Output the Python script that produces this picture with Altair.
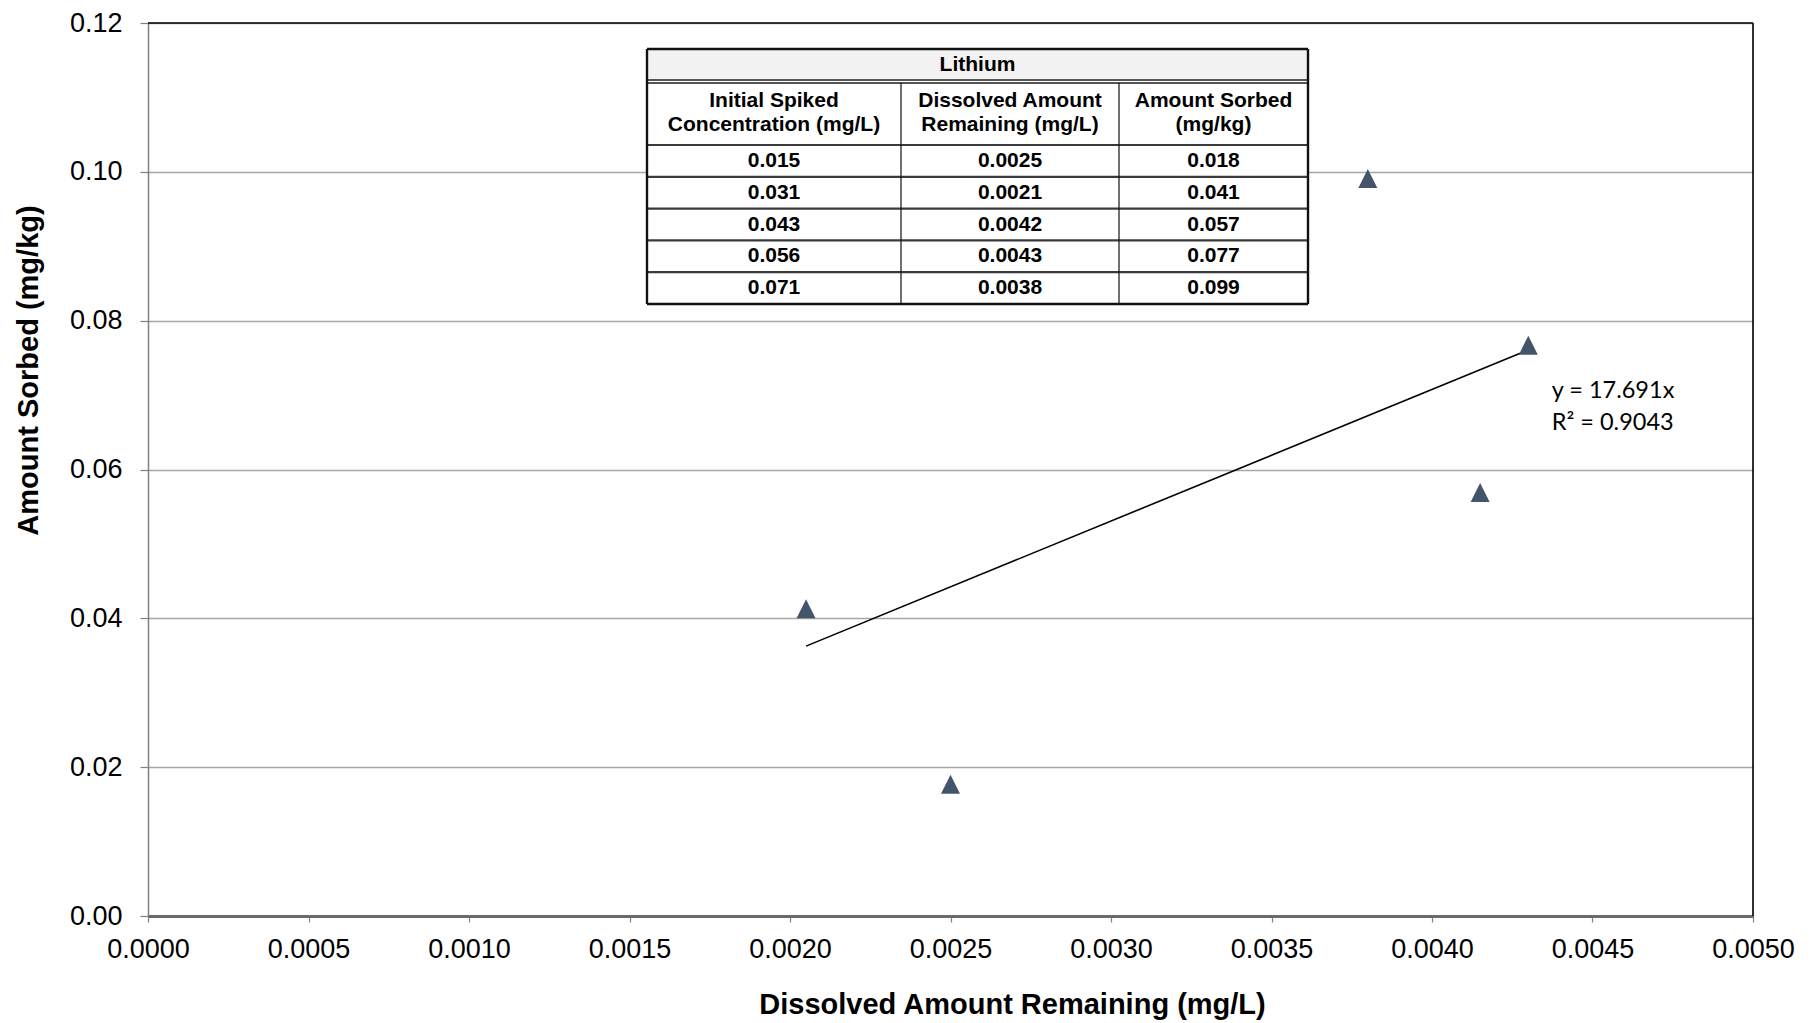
import altair as alt
import pandas as pd

# ---------------- data ----------------
dissolved = [0.00205, 0.0025, 0.0038, 0.00415, 0.0043]   # x of plotted points (mg/L)
sorbed = [0.0413, 0.0177, 0.0991, 0.0569, 0.0767]        # y of plotted points (mg/kg)

trend_slope = 17.691
trend_r2 = 0.9043
eq_lines = ["y = 17.691x", "R\u00b2 = 0.9043"]

x_ticks = [0.0, 0.0005, 0.0010, 0.0015, 0.0020, 0.0025, 0.0030, 0.0035, 0.0040, 0.0045, 0.0050]
y_ticks = [0.00, 0.02, 0.04, 0.06, 0.08, 0.10, 0.12]

table_title = "Lithium"
table_headers = [["Initial Spiked", "Concentration (mg/L)"],
                 ["Dissolved Amount", "Remaining (mg/L)"],
                 ["Amount Sorbed", "(mg/kg)"]]
col_initial = ["0.015", "0.031", "0.043", "0.056", "0.071"]
col_dissolved = ["0.0025", "0.0021", "0.0042", "0.0043", "0.0038"]
col_sorbed = ["0.018", "0.041", "0.057", "0.077", "0.099"]

# ---------------- layout (pixels) ----------------
W, H = 1605, 893
FONT = "Liberation Sans"
COLX = [499, 753, 971, 1160]          # table column edges
T_TOP, T_TITLE_BOT, T_HEAD_TOP, T_HEAD_BOT, T_BOT = 26, 57, 60, 122, 281
ROW_H = (T_BOT - T_HEAD_BOT) / 5
EQ_X, EQ_Y = 0.004373, [0.06961, 0.06531]
TRI = "M0,-1L1,1L-1,1Z"

# ---------------- main layers ----------------
pts = pd.DataFrame({"x": dissolved, "y": sorbed})
tx = [min(dissolved), max(dissolved)]
trend = pd.DataFrame({"x": tx, "y": [trend_slope * v for v in tx]})
eq = pd.DataFrame({"x": [EQ_X, EQ_X], "y": EQ_Y, "t": eq_lines})

xscale = alt.Scale(domain=[0, 0.005], nice=False, zero=False)
yscale = alt.Scale(domain=[0, 0.12], nice=False)

xaxis = alt.Axis(values=x_ticks, format=".4f", grid=False, labelFont=FONT, labelFontSize=27,
                 labelColor="black", labelPadding=14, labelFlush=False, labelOverlap=False,
                 tickSize=6, tickColor="#808080", tickWidth=1.2,
                 domainColor="#6a6a6a", domainWidth=3,
                 title="Dissolved Amount Remaining (mg/L)", titleFont=FONT, titleFontSize=29,
                 titleFontWeight="bold", titleColor="black", titleX=864, titleY=97,
                 titleBaseline="alphabetic", titleAlign="center")
yaxis = alt.Axis(values=y_ticks, format=".2f", grid=True, gridColor="#a6a6a6", gridWidth=1.3,
                 labelFont=FONT, labelFontSize=27, labelColor="black", labelPadding=18,
                 labelFlush=False, labelOverlap=False,
                 tickSize=8, tickColor="#808080", tickWidth=1.2,
                 domainColor="#808080", domainWidth=1.5,
                 title="Amount Sorbed (mg/kg)", titleFont=FONT, titleFontSize=29,
                 titleFontWeight="bold", titleColor="black", titleX=-111, titleY=347,
                 titleBaseline="alphabetic", titleAlign="center", titleAngle=270)

trend_line = alt.Chart(trend).mark_line(color="black", strokeWidth=1.6).encode(
    x=alt.X("x:Q", scale=xscale, axis=xaxis),
    y=alt.Y("y:Q", scale=yscale, axis=yaxis),
)
points = alt.Chart(pts).mark_point(shape=TRI, filled=True, size=361,
                                   color="#44546A", opacity=1).encode(
    x=alt.X("x:Q", scale=xscale), y=alt.Y("y:Q", scale=yscale))
eq_text = alt.Chart(eq).mark_text(align="left", baseline="alphabetic", font="Lato",
                                  fontSize=23.5, color="black").encode(
    x=alt.X("x:Q", scale=xscale), y=alt.Y("y:Q", scale=yscale), text="t:N")

main = alt.layer(trend_line, points, eq_text)

# ---------------- table inset and plot frame (pixel coordinates) ----------------
rects = pd.DataFrame({
    "x": [COLX[0], COLX[0]], "x2": [COLX[3], COLX[3]],
    "y": [T_TOP, T_TOP], "y2": [T_BOT, T_TITLE_BOT],
    "fill": ["white", "#f2f2f2"]})
rect_layer = alt.Chart(rects).mark_rect().encode(
    x=alt.X("x:Q", scale=None, axis=None), x2="x2:Q",
    y=alt.Y("y:Q", scale=None, axis=None), y2="y2:Q",
    fill=alt.Fill("fill:N", scale=None))

row_lines = [T_HEAD_BOT + ROW_H * i for i in range(1, 5)]
segs = []
for yy in [T_TITLE_BOT, T_HEAD_TOP]:
    segs.append((COLX[0], COLX[3], yy, yy, "#555555", 2.0))
segs.append((COLX[0], COLX[3], T_HEAD_BOT, T_HEAD_BOT, "#3a3a3a", 2.2))
for yy in row_lines:
    segs.append((COLX[0], COLX[3], yy, yy, "#3a3a3a", 2.2))
for xx in COLX[1:3]:
    segs.append((xx, xx, T_HEAD_TOP, T_BOT, "#111111", 1.2))
segs += [(COLX[0], COLX[3], T_TOP, T_TOP, "#111111", 2.4),
         (COLX[0], COLX[3], T_BOT, T_BOT, "#111111", 2.4),
         (COLX[0], COLX[0], T_TOP, T_BOT, "#111111", 2.4),
         (COLX[3], COLX[3], T_TOP, T_BOT, "#111111", 2.4)]
# plot frame: top and right edges in black
segs += [(0, W, 0, 0, "#000000", 1.6),
         (W, W, 0, H, "#000000", 1.6)]
lines_df = pd.DataFrame(segs, columns=["x", "x2", "y", "y2", "c", "w"])
line_layer = alt.Chart(lines_df).mark_rule().encode(
    x=alt.X("x:Q", scale=None, axis=None), x2="x2:Q",
    y=alt.Y("y:Q", scale=None, axis=None), y2="y2:Q",
    color=alt.Color("c:N", scale=None),
    strokeWidth=alt.StrokeWidth("w:Q", scale=None))

centers = [(COLX[i] + COLX[i + 1]) / 2 for i in range(3)]
texts = [((COLX[0] + COLX[3]) / 2, (T_TOP + T_TITLE_BOT) / 2, table_title)]
for i, hdr in enumerate(table_headers):
    texts.append((centers[i], 78, hdr[0]))
    texts.append((centers[i], 102, hdr[1]))
for r in range(5):
    yc = T_HEAD_BOT + ROW_H * (r + 0.5)
    for i, col in enumerate([col_initial, col_dissolved, col_sorbed]):
        texts.append((centers[i], yc, col[r]))
text_df = pd.DataFrame(texts, columns=["x", "y", "t"])
text_layer = alt.Chart(text_df).mark_text(font=FONT, fontSize=21, fontWeight="bold",
                                          color="black", align="center", baseline="middle").encode(
    x=alt.X("x:Q", scale=None, axis=None),
    y=alt.Y("y:Q", scale=None, axis=None),
    text="t:N")

table = alt.layer(rect_layer, line_layer, text_layer)

chart = alt.layer(main, table).resolve_scale(x="independent", y="independent").properties(
    width=W, height=H,
    autosize=alt.AutoSizeParams(type="none"),
    padding={"left": 140, "top": 15, "right": 50, "bottom": 106},
).configure_view(stroke="black", strokeWidth=1.5).configure(background="white")

chart.save("out.html", embed_options={"renderer": "svg", "actions": False})
